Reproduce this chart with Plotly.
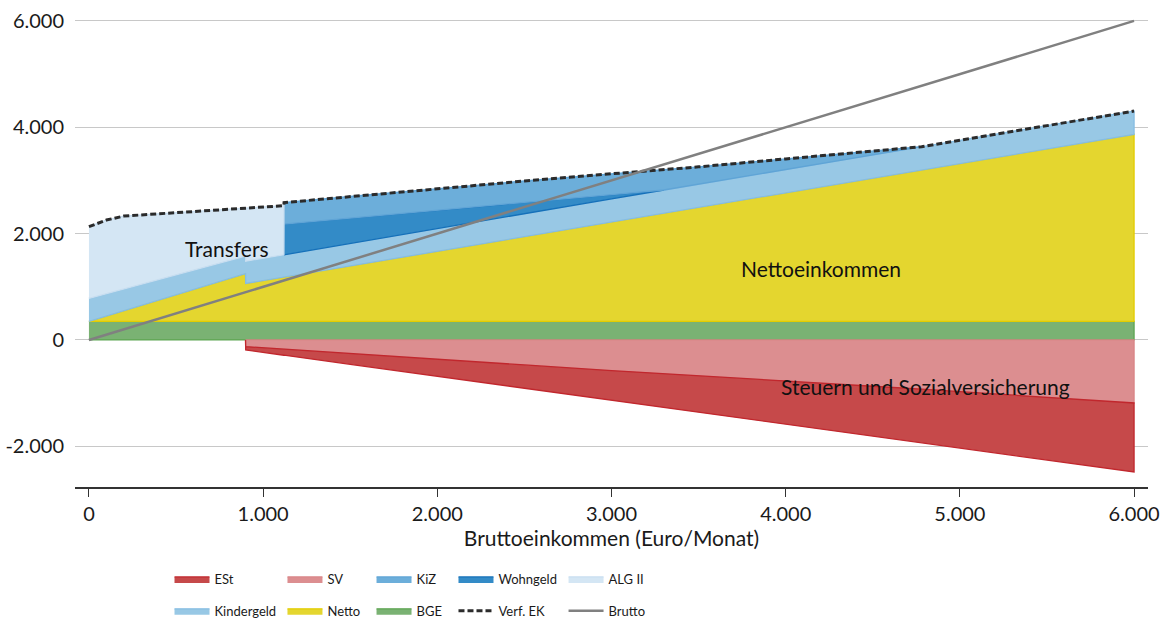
import plotly.graph_objects as go

# ---------------- data ----------------
gross = [0, 100, 200, 500, 899, 900, 1119, 1120, 1500, 2000, 2500, 3000, 3300, 3500, 4000, 4500, 4780, 5000, 5500, 6000]
bge = [350, 350, 350, 350, 350, 350, 350, 350, 350, 350, 350, 350, 350, 350, 350, 350, 350, 350, 350, 350]
netto = [0, 100, 200, 500, 899, 712, 832, 833, 1042, 1317, 1592, 1867, 2032, 2142, 2417, 2692, 2846, 2967, 3242, 3517]
kindergeld = [430, 419, 408, 375, 330, 420, 420, 420, 425, 430, 435, 438, 438, 438, 438, 438, 438, 438, 438, 438]
wohngeld = [0, 0, 0, 0, 0, 0, 0, 576, 476, 344, 212, 80, 0, 0, 0, 0, 0, 0, 0, 0]
kiz = [0, 0, 0, 0, 0, 0, 0, 404, 405, 406, 400, 390, 375, 325, 200, 75, 0, 0, 0, 0]
alg2 = [1350, 1386, 1372, 1165, 896, 993, 923, 0, 0, 0, 0, 0, 0, 0, 0, 0, 0, 0, 0, 0]
sv = [0, 0, 0, 0, 0, 125, 175, 175, 255, 365, 470, 575, 635, 675, 775, 870, 925, 970, 1075, 1185]
est = [0, 0, 0, 0, 0, 63, 112, 112, 203, 318, 438, 558, 633, 683, 808, 938, 1009, 1063, 1183, 1298]
brutto = [0, 100, 200, 500, 899, 900, 1119, 1120, 1500, 2000, 2500, 3000, 3300, 3500, 4000, 4500, 4780, 5000, 5500, 6000]

x_ticks = [0, 1000, 2000, 3000, 4000, 5000, 6000]
x_ticktext = ["0", "1.000", "2.000", "3.000", "4.000", "5.000", "6.000"]
y_ticks = [-2000, 0, 2000, 4000, 6000]
y_ticktext = ["-2.000", "0", "2.000", "4.000", "6.000"]

# ---------------- styles ----------------
FONT = "Lato, 'Noto Sans', sans-serif"
LEGFONT = "Lato, sans-serif"
# name: (fill, line, legend, legend row)
styles = {
    "BGE": ("#7AB273", "#5DA552", "legend3", 2),
    "Netto": ("#E4D62F", "#E3CC00", "legend2", 2),
    "Kindergeld": ("#98C8E5", "#86BDE2", "legend", 2),
    "Wohngeld": ("#338BC7", "#1570B9", "legend4", 1),
    "KiZ": ("#6CAEDA", "#5FA4D6", "legend3", 1),
    "ALG II": ("#D4E6F4", "#C8DEF0", "legend5", 1),
    "SV": ("#DC8E90", "#D98587", "legend2", 1),
    "ESt": ("#C6494A", "#C1272D", "legend", 1),
}

fig = go.Figure()


def add_layer(name, bottom, top):
    vals = [t - b for t, b in zip(top, bottom)]
    n = len(vals)
    keep = [False] * n
    for i, v in enumerate(vals):
        if abs(v) > 0:
            for j in (i - 1, i, i + 1):
                if 0 <= j < n:
                    keep[j] = True
    idx = [i for i in range(n) if keep[i]]
    xs = [gross[i] for i in idx] + [gross[i] for i in reversed(idx)]
    ys = [top[i] for i in idx] + [bottom[i] for i in reversed(idx)]
    fc, lc, leg, rank = styles[name]
    fig.add_trace(go.Scatter(
        x=xs, y=ys, name=name, mode="lines", fill="toself",
        fillcolor=fc, line=dict(color=lc, width=1.3),
        legend=leg, legendgroup=name, legendrank=rank, hoverinfo="skip",
    ))


# positive stack
levels = [[0] * len(gross)]
order = [("BGE", bge), ("Netto", netto), ("Kindergeld", kindergeld),
         ("Wohngeld", wohngeld), ("KiZ", kiz), ("ALG II", alg2)]
for name, vals in order:
    prev = levels[-1]
    cur = [p + v for p, v in zip(prev, vals)]
    add_layer(name, prev, cur)
    levels.append(cur)
verf_ek = levels[-1]

# negative stack
neg_levels = [[0] * len(gross)]
for name, vals in [("SV", sv), ("ESt", est)]:
    prev = neg_levels[-1]
    cur = [p - v for p, v in zip(prev, vals)]
    add_layer(name, prev, cur)
    neg_levels.append(cur)

fig.add_trace(go.Scatter(
    x=gross, y=verf_ek, name="Verf. EK", mode="lines",
    line=dict(color="#2b2b2b", width=3, dash="6px,3px"),
    legend="legend4", legendgroup="Verf. EK", legendrank=2, hoverinfo="skip",
))
fig.add_trace(go.Scatter(
    x=gross, y=brutto, name="Brutto", mode="lines",
    line=dict(color="#808080", width=2.5),
    legend="legend5", legendgroup="Brutto", legendrank=2, hoverinfo="skip",
))

# labels
labels = [("Transfers", 792, 1711), ("Nettoeinkommen", 4203, 1335),
          ("Steuern und Sozialversicherung", 4800, -884)]
for txt, lx, ly in labels:
    fig.add_annotation(x=lx, y=ly, text=txt, showarrow=False,
                       font=dict(family=FONT, size=21, color="#111111"))

leg_common = dict(yanchor="top", xanchor="left", orientation="v",
                  xref="container", yref="container", y=0.0874,
                  traceorder="grouped",
                  tracegroupgap=12, itemwidth=35, bgcolor="rgba(0,0,0,0)",
                  font=dict(family=LEGFONT, size=13, color="#1a1a1a"))

fig.update_layout(
    width=1161, height=618,
    margin=dict(l=75, r=13, t=10, b=131, autoexpand=False),
    plot_bgcolor="white", paper_bgcolor="white",
    font=dict(family=FONT, size=20, color="#1a1a1a"),
    showlegend=True,
    legend=dict(x=0.1460, **leg_common),
    legend2=dict(x=0.2433, **leg_common),
    legend3=dict(x=0.3200, **leg_common),
    legend4=dict(x=0.3906, **leg_common),
    legend5=dict(x=0.4854, **leg_common),
    xaxis=dict(range=[-80, 6080], tickvals=x_ticks, ticktext=x_ticktext,
               ticks="outside", ticklen=8, tickcolor="#333333", tickwidth=1.3,
               showline=True, linecolor="#333333", linewidth=1.5,
               showgrid=False, zeroline=False, automargin=False,
               title=dict(text="Bruttoeinkommen (Euro/Monat)", standoff=0,
                          font=dict(size=21))),
    yaxis=dict(range=[-2765, 6205], tickvals=y_ticks, ticktext=y_ticktext,
               showgrid=True, gridcolor="#c8c8c8", gridwidth=1.2,
               zeroline=False, showline=False, ticks="", automargin=False,
               ticklabelstandoff=10),
)

fig.write_html("out.html",
               config={"displayModeBar": False},
               post_script="document.body.style.margin='0px';"
                           "document.body.style.overflow='hidden';")
